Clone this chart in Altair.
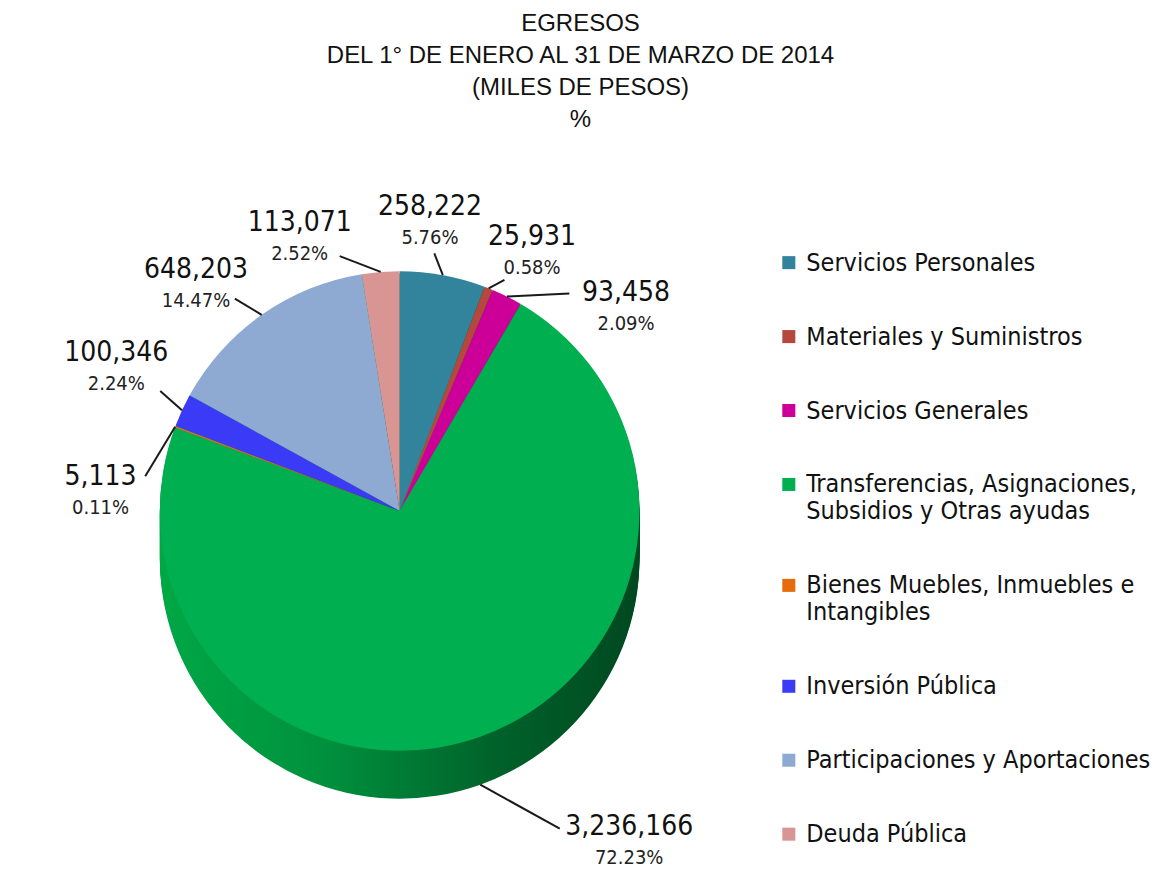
import altair as alt
import pandas as pd

# ---------------- data ----------------
CATEGORIES = [
    "Servicios Personales",
    "Materiales y Suministros",
    "Servicios Generales",
    "Transferencias, Asignaciones, Subsidios y Otras ayudas",
    "Bienes Muebles, Inmuebles e Intangibles",
    "Inversión Pública",
    "Participaciones y Aportaciones",
    "Deuda Pública",
]
VALUES = [258222, 25931, 93458, 3236166, 5113, 100346, 648203, 113071]
PERCENTS = [5.76, 0.58, 2.09, 72.23, 0.11, 2.24, 14.47, 2.52]
COLORS = ["#31849B", "#B5473F", "#CC0099", "#00AF50", "#E46C0A", "#3B3BF7", "#8EA9D2", "#D99594"]
TITLE_LINES = ["EGRESOS", "DEL 1° DE ENERO AL 31 DE MARZO DE 2014", "(MILES DE PESOS)", "%"]

# ---------------- label layout (style only, offsets from each slice's middle) ----------------
LABEL_SHIFT_DEG = [-4.4, 5.2, 21.4, -15.2, -16.7, 2.1, -6.8, -15.5]
LABEL_RADIUS = [292, 292, 305, 402, 300, 318, 305, 292]
LEADER_SHIFT_DEG = [-2.7, 2.6, 11.4, -7.1, -12.8, 1.8, -2.7, -8.7]
LEADER_RADIUS = [260, 254, 276, 356, 257, 268, 269, 262]

W, H = 780, 690
R = 240
DEPTH = 48
COND = "DejaVu Sans Condensed, Liberation Sans Narrow, sans-serif"

df = pd.DataFrame({
    "idx": list(range(len(CATEGORIES))),
    "category": CATEGORIES,
    "value": VALUES,
    "pct": PERCENTS,
    "shift": LABEL_SHIFT_DEG,
    "lab_r": LABEL_RADIUS,
    "lead_shift": LEADER_SHIFT_DEG,
    "lead_r": LEADER_RADIUS,
})

side_gradient = alt.LinearGradient(
    gradient="linear",
    stops=[
        alt.GradientStop(color="#00A845", offset=0),
        alt.GradientStop(color="#00903D", offset=0.35),
        alt.GradientStop(color="#00622A", offset=0.7),
        alt.GradientStop(color="#004820", offset=1),
    ],
    x1=0, x2=1, y1=0, y2=0,
)

layers = []
# 3D side wall: the same slices repeated downward
for d in range(DEPTH, 0, -2):
    layers.append(
        alt.Chart(df).mark_arc(radius=R, color=side_gradient, y={"expr": f"height / 2 + {d}"}).encode(
            theta=alt.Theta("value:Q", stack=True),
            order=alt.Order("idx:Q"),
        )
    )

legend_expr = (
    "datum.label == 'Transferencias, Asignaciones, Subsidios y Otras ayudas' ? "
    "['Transferencias, Asignaciones,', 'Subsidios y Otras ayudas'] : "
    "datum.label == 'Bienes Muebles, Inmuebles e Intangibles' ? "
    "['Bienes Muebles, Inmuebles e', 'Intangibles'] : datum.label"
)

top = alt.Chart(df).mark_arc(radius=R).encode(
    theta=alt.Theta("value:Q", stack=True),
    order=alt.Order("idx:Q"),
    color=alt.Color(
        "category:N",
        scale=alt.Scale(domain=CATEGORIES, range=COLORS),
        legend=alt.Legend(
            title=None,
            orient="none",
            legendX=767,
            legendY=84,
            symbolType="square",
            symbolSize=170,
            symbolStrokeWidth=0,
            labelFont=COND,
            labelFontSize=25,
            labelColor="#111111",
            labelLimit=500,
            labelOffset=5,
            rowPadding=48,
            labelExpr=legend_expr,
        ),
    ),
)
layers.append(top)

base = (
    alt.Chart(df)
    .transform_joinaggregate(total="sum(value)")
    .transform_window(cum="sum(value)", sort=[alt.SortField("idx", order="ascending")], frame=[None, 0])
    .transform_calculate(mid="(datum.cum - datum.value / 2) / datum.total * 2 * PI")
    .transform_calculate(lab="datum.mid + datum.shift * PI / 180")
    .transform_calculate(lead="datum.mid + datum.lead_shift * PI / 180")
    .transform_calculate(x1=f"{W / 2} + {R} * sin(datum.mid)")
    .transform_calculate(y1=f"{H / 2} - {R} * cos(datum.mid) + (cos(datum.mid) < 0 ? {DEPTH} : 0)")
    .transform_calculate(x2=f"{W / 2} + datum.lead_r * sin(datum.lead)")
    .transform_calculate(y2=f"{H / 2} - datum.lead_r * cos(datum.lead)")
    .transform_calculate(pct_label="format(datum.pct, '.2f') + '%'")
)

leader = base.mark_rule(color="#1a1a1a", strokeWidth=2).encode(
    x=alt.X("x1:Q", scale=None, axis=None),
    y=alt.Y("y1:Q", scale=None, axis=None),
    x2=alt.X2("x2:Q"),
    y2=alt.Y2("y2:Q"),
)
val_text = base.mark_text(font=COND, fontSize=28, color="#111111", dy=-14).encode(
    theta=alt.Theta("lab:Q", scale=None, stack=False),
    radius=alt.Radius("lab_r:Q", scale=None),
    text=alt.Text("value:Q", format=","),
)
pct_text = base.mark_text(font=COND, fontSize=20, color="#222222", dy=17).encode(
    theta=alt.Theta("lab:Q", scale=None, stack=False),
    radius=alt.Radius("lab_r:Q", scale=None),
    text=alt.Text("pct_label:N"),
)
layers += [leader, val_text, pct_text]

chart = (
    alt.layer(*layers)
    .properties(
        width=W,
        height=H,
        padding={"left": 10, "top": 12, "right": 5, "bottom": 5},
        title=alt.TitleParams(
            text=TITLE_LINES,
            font="Liberation Sans, Arial, sans-serif",
            fontSize=24,
            fontWeight="normal",
            color="#111111",
            lineHeight=32,
            anchor="middle",
            frame="bounds",
            offset=34,
        ),
    )
    .configure_view(strokeWidth=0)
)

chart.save("out.html", embed_options={"renderer": "svg", "actions": False})
